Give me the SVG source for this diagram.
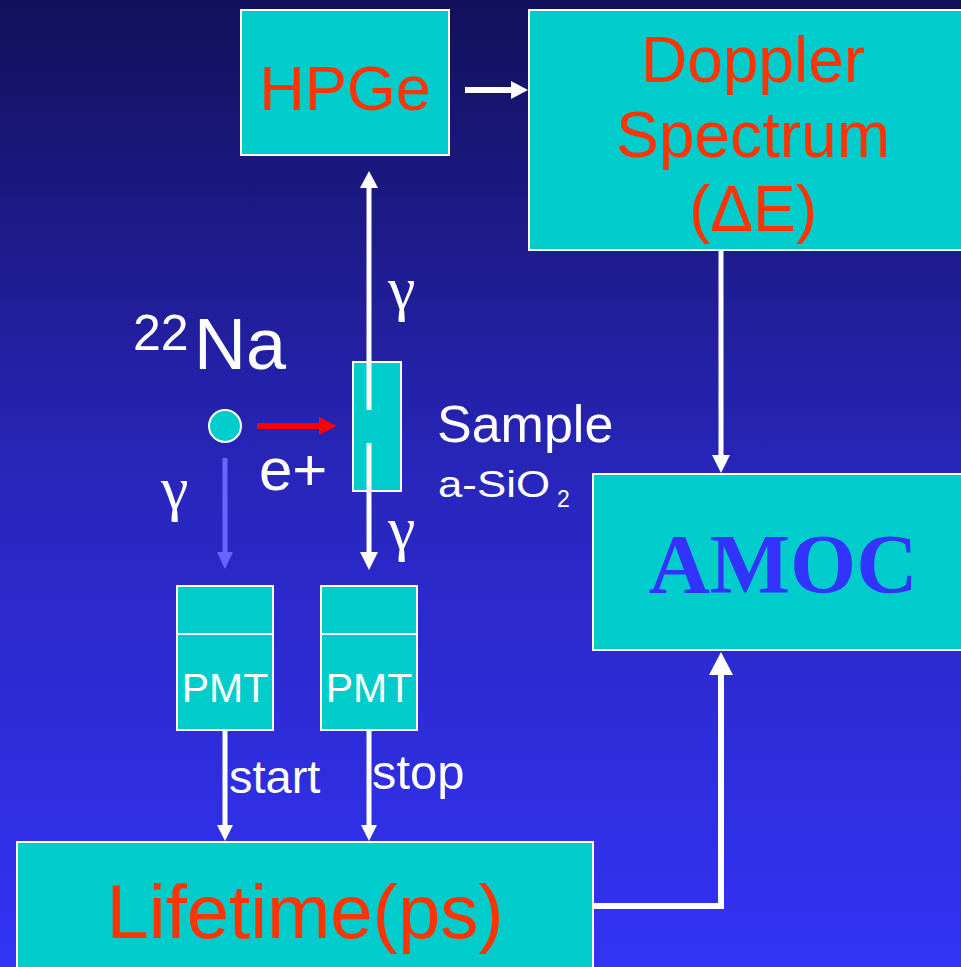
<svg xmlns="http://www.w3.org/2000/svg" width="961" height="967" viewBox="0 0 961 967">
<defs>
<linearGradient id="bg" x1="0" y1="0" x2="0" y2="1">
<stop offset="0" stop-color="#12105a"/>
<stop offset="0.5" stop-color="#2826bc"/>
<stop offset="1" stop-color="#3333f5"/>
</linearGradient>
<style>
.box{fill:#00cccc;stroke:#ffffff;stroke-width:2}
.red{font-family:"Liberation Sans",Arial,sans-serif;fill:#ff3300;text-anchor:middle}
.wt{font-family:"Liberation Sans",Arial,sans-serif;fill:#ffffff}
.gam{font-family:"Liberation Serif","Times New Roman",serif;fill:#ffffff;font-size:62px}
.wl{stroke:#ffffff;fill:none}
.wh{fill:#ffffff}
</style>
</defs>
<rect x="0" y="0" width="961" height="967" fill="url(#bg)"/>

<g id="hpge">
<rect class="box" x="241" y="10" width="208" height="145"/>
<text class="red" x="345" y="110" font-size="63">HPGe</text>
</g>

<g id="doppler">
<rect class="box" x="529" y="10" width="440" height="240"/>
<text class="red" x="753" y="82" font-size="64">Doppler</text>
<text class="red" x="753" y="157" font-size="64">Spectrum</text>
<text class="red" x="753" y="231" font-size="64">(ΔE)</text>
</g>

<g id="amoc">
<rect class="box" x="593" y="474" width="376" height="176"/>
<text x="783" y="593" font-family="'Liberation Serif','Times New Roman',serif" font-weight="bold" font-size="85" fill="#3333ff" text-anchor="middle">AMOC</text>
</g>

<g id="lifetime">
<rect class="box" x="17" y="842" width="576" height="140"/>
<text class="red" x="305" y="938" font-size="76">Lifetime(ps)</text>
</g>

<g id="sample">
<rect class="box" x="353" y="362" width="48" height="129"/>
<text class="wt" x="437" y="442" font-size="52">Sample</text>
<text class="wt" x="438" y="497" font-size="36" textLength="112" lengthAdjust="spacingAndGlyphs">a-SiO</text>
<text class="wt" x="557" y="507" font-size="23">2</text>
</g>

<g id="source">
<circle cx="225" cy="426" r="16" fill="#00cccc" stroke="#ffffff" stroke-width="2"/>
<text class="wt" x="133" y="350" font-size="50">22</text>
<text class="wt" x="194" y="369" font-size="72">Na</text>
</g>

<g id="pmt-start">
<rect class="box" x="177" y="586" width="96" height="144"/>
<line x1="177" y1="634" x2="273" y2="634" stroke="#ffffff" stroke-width="2"/>
<text class="wt" x="225" y="702" font-size="41" text-anchor="middle">PMT</text>
</g>

<g id="pmt-stop">
<rect class="box" x="321" y="586" width="96" height="144"/>
<line x1="321" y1="634" x2="417" y2="634" stroke="#ffffff" stroke-width="2"/>
<text class="wt" x="369" y="702" font-size="41" text-anchor="middle">PMT</text>
</g>

<g id="connectors">
<line class="wl" x1="465" y1="90" x2="513" y2="90" stroke-width="6"/>
<polygon class="wh" points="511,81 528,90 511,99"/>

<line class="wl" x1="721" y1="250" x2="721" y2="457" stroke-width="5"/>
<polygon class="wh" points="712,455 730,455 721,473"/>

<polyline class="wl" points="593,906 721,906 721,673" stroke-width="6"/>
<polygon class="wh" points="709,675 733,675 721,652"/>

<line class="wl" x1="369" y1="186" x2="369" y2="410" stroke-width="5"/>
<polygon class="wh" points="360,188 378,188 369,171"/>
<line class="wl" x1="369" y1="443" x2="369" y2="554" stroke-width="5"/>
<polygon class="wh" points="360,552 378,552 369,570"/>

<line x1="257" y1="426" x2="321" y2="426" stroke="#ff0000" stroke-width="6"/>
<polygon points="319,417 337,426 319,435" fill="#ff0000"/>

<line x1="225" y1="458" x2="225" y2="554" stroke="#6666ff" stroke-width="5"/>
<polygon points="217,552 233,552 225,569" fill="#6666ff"/>

<line class="wl" x1="225" y1="730" x2="225" y2="827" stroke-width="5"/>
<polygon class="wh" points="217,825 233,825 225,841"/>
<line class="wl" x1="369" y1="730" x2="369" y2="827" stroke-width="5"/>
<polygon class="wh" points="361,825 377,825 369,841"/>
</g>

<g id="labels">
<text class="gam" x="388" y="309">γ</text>
<text class="gam" x="388" y="549">γ</text>
<text class="gam" x="161" y="509">γ</text>
<text class="wt" x="259" y="490" font-size="60">e+</text>
<text class="wt" x="229" y="793" font-size="47">start</text>
<text class="wt" x="372" y="789" font-size="49">stop</text>
</g>
</svg>
